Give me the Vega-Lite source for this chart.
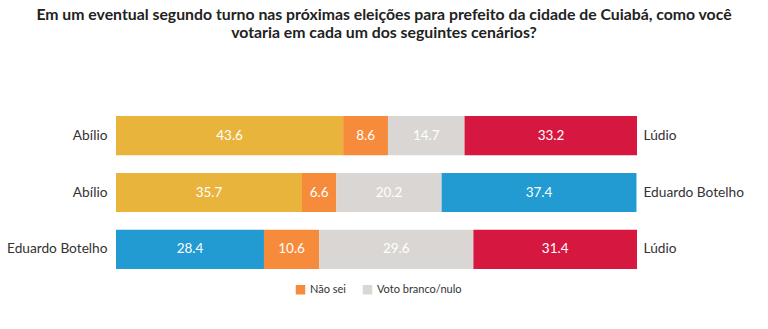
{
  "$schema": "https://vega.github.io/schema/vega-lite/v6.json",
  "width": 521,
  "height": 153,
  "autosize": {"type": "none"},
  "padding": {"left": 116, "top": 116, "right": 131, "bottom": 60},
  "background": "white",
  "config": {"view": {"stroke": null}, "font": "Lato"},
  "title": {
    "text": ["Em um eventual segundo turno nas próximas eleições para prefeito da cidade de Cuiabá, como você", "votaria em cada um dos seguintes cenários?"],
    "anchor": "middle",
    "dx": 7.5,
    "offset": 74,
    "font": "Lato",
    "fontSize": 15.8,
    "fontWeight": "bold",
    "color": "#222222",
    "lineHeight": 18.5
  },
  "data": {
    "values": [
      {"pair": "Abílio|Lúdio", "cat": "Abílio", "seq": 1, "value": 43.6},
      {"pair": "Abílio|Lúdio", "cat": "Não sei", "seq": 2, "value": 8.6},
      {"pair": "Abílio|Lúdio", "cat": "Voto branco/nulo", "seq": 3, "value": 14.7},
      {"pair": "Abílio|Lúdio", "cat": "Lúdio", "seq": 4, "value": 33.2},
      {"pair": "Abílio|Eduardo Botelho", "cat": "Abílio", "seq": 1, "value": 35.7},
      {"pair": "Abílio|Eduardo Botelho", "cat": "Não sei", "seq": 2, "value": 6.6},
      {"pair": "Abílio|Eduardo Botelho", "cat": "Voto branco/nulo", "seq": 3, "value": 20.2},
      {"pair": "Abílio|Eduardo Botelho", "cat": "Eduardo Botelho", "seq": 4, "value": 37.4},
      {"pair": "Eduardo Botelho|Lúdio", "cat": "Eduardo Botelho", "seq": 1, "value": 28.4},
      {"pair": "Eduardo Botelho|Lúdio", "cat": "Não sei", "seq": 2, "value": 10.6},
      {"pair": "Eduardo Botelho|Lúdio", "cat": "Voto branco/nulo", "seq": 3, "value": 29.6},
      {"pair": "Eduardo Botelho|Lúdio", "cat": "Lúdio", "seq": 4, "value": 31.4}
    ]
  },
  "transform": [
    {"stack": "value", "groupby": ["pair"], "sort": [{"field": "seq"}], "as": ["x0", "x1"]},
    {"calculate": "(datum.x0 + datum.x1) / 2", "as": "xm"}
  ],
  "layer": [
    {
      "mark": {"type": "bar"},
      "encoding": {
        "y": {
          "field": "pair", "type": "nominal",
          "sort": ["Abílio|Lúdio", "Abílio|Eduardo Botelho", "Eduardo Botelho|Lúdio"],
          "scale": {"paddingInner": 0.31, "paddingOuter": 0},
          "axis": {"orient": "left", "title": null, "domain": false, "ticks": false, "labelPadding": 9, "labelFontSize": 13.7, "labelColor": "#333333", "labelFont": "Lato", "labelExpr": "split(datum.label, '|')[0]"}
        },
        "x": {"field": "x0", "type": "quantitative", "scale": {"domain": [0, 100], "nice": false, "clamp": true}, "axis": null},
        "x2": {"field": "x1"},
        "color": {
          "field": "cat", "type": "nominal",
          "scale": {
            "domain": ["Abílio", "Eduardo Botelho", "Lúdio", "Não sei", "Voto branco/nulo"],
            "range": ["#E9B43C", "#219BD2", "#D6173F", "#F68B3C", "#DAD6D3"]
          },
          "legend": {
            "values": ["Não sei", "Voto branco/nulo"],
            "orient": "none",
            "legendX": 179,
            "legendY": 168,
            "direction": "horizontal",
            "title": null,
            "symbolType": "square",
            "symbolSize": 90,
            "symbolStrokeWidth": 0,
            "labelFontSize": 11,
            "labelFont": "Lato",
            "labelColor": "#333333",
            "labelOffset": 4,
            "columnPadding": 16
          }
        }
      }
    },
    {
      "mark": {"type": "text", "color": "white", "fontSize": 13.5, "font": "Lato"},
      "encoding": {
        "y": {
          "field": "pair", "type": "nominal",
          "sort": ["Abílio|Lúdio", "Abílio|Eduardo Botelho", "Eduardo Botelho|Lúdio"],
          "axis": {"orient": "right", "title": null, "domain": false, "ticks": false, "labelPadding": 6, "labelFontSize": 13.7, "labelColor": "#333333", "labelFont": "Lato", "labelAlign": "left", "labelExpr": "split(datum.label, '|')[1]"}
        },
        "x": {"field": "xm", "type": "quantitative"},
        "text": {"field": "value", "type": "quantitative", "format": ".1f"}
      }
    }
  ],
  "resolve": {"axis": {"y": "independent"}}
}
